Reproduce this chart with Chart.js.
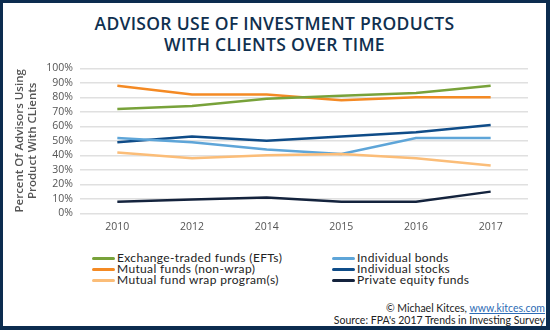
<!DOCTYPE html>
<html>
<head>
<meta charset="utf-8">
<script src="https://cdn.jsdelivr.net/npm/chart.js@4"></script>
<style>
  html, body { margin: 0; padding: 0; background: #fff; }
  #frame {
    position: relative; width: 550px; height: 330px; box-sizing: border-box;
    border-style: solid; border-color: #0c2c4f; border-width: 3px 4px 4px 3px;
    overflow: hidden; background: #fff;
  }
  #title {
    position: absolute; left: 0; top: 10px; width: 543px; text-align: center;
    font: 600 17.5px "Open Sans", sans-serif; color: #10304f; line-height: 21px;
    letter-spacing: 0.3px;
  }
  #plot { position: absolute; left: 0; top: 52px; width: 543px; height: 185px; }
  .legend { position: absolute; top: 249px; font: 12px Lato, sans-serif; color: #222; letter-spacing: 0.35px; }
  .legend div { height: 11px; line-height: 11px; white-space: nowrap; }
  .legend span.sw { display: inline-block; width: 23px; height: 3px; vertical-align: middle; margin-right: 2px; border-radius: 2px; }
  #footer {
    position: absolute; right: 1px; top: 299px; text-align: right;
    font: 10.5px Lato, sans-serif; color: #222; line-height: 12px;
  }
  #footer a { color: #2d6cb5; text-decoration: underline; }
</style>
</head>
<body>
<div id="frame">
  <div id="title">ADVISOR USE OF INVESTMENT PRODUCTS<br>WITH CLIENTS OVER TIME</div>
  <div id="plot"><canvas id="chart"></canvas></div>
  <div class="legend" id="legend-left" style="left:89px"></div>
  <div class="legend" id="legend-right" style="left:329px"></div>
  <div id="footer">© Michael Kitces, <a>www.kitces.com</a><br>Source: FPA's 2017 Trends in Investing Survey</div>
</div>
<script>
// --- Data ---
const years = ["2010", "2012", "2014", "2015", "2016", "2017"];

const etfs          = [72, 74, 79, 81, 83, 88];
const mutualFunds   = [88, 82, 82, 78, 80, 80];
const wrapPrograms  = [42, 38, 40, 41, 38, 33];
const bonds         = [52, 49, 44, 41, 52, 52];
const stocks        = [49, 53, 50, 53, 56, 61];
const privateEquity = [8, 9.5, 11, 8, 8, 15];

const yTicks = [0, 10, 20, 30, 40, 50, 60, 70, 80, 90, 100];

const seriesNames = [
  "Exchange-traded funds (EFTs)",
  "Mutual funds (non-wrap)",
  "Mutual fund wrap program(s)",
  "Individual bonds",
  "Individual stocks",
  "Private equity funds"
];
const seriesColors = ["#78a23a", "#f48a24", "#fbbd78", "#5ea5d8", "#0f4c88", "#14233d"];
const seriesData = [etfs, mutualFunds, wrapPrograms, bonds, stocks, privateEquity];

const tickFont = { family: "Open Sans", size: 10.5 };

const chart = new Chart(document.getElementById("chart"), {
  type: "line",
  data: {
    labels: years,
    datasets: seriesData.map((d, i) => ({
      label: seriesNames[i],
      data: d,
      borderColor: seriesColors[i],
      backgroundColor: seriesColors[i],
      borderWidth: 2.5,
      pointRadius: 0,
      tension: 0,
      fill: false
    }))
  },
  options: {
    responsive: true,
    maintainAspectRatio: false,
    animation: false,
    layout: { padding: { left: 10, right: 18, top: 4, bottom: 0 } },
    plugins: { legend: { display: false }, tooltip: { enabled: false } },
    scales: {
      x: {
        offset: true,
        grid: { display: false, drawTicks: false },
        border: { display: false },
        ticks: { color: "#555", font: tickFont, padding: 7 }
      },
      y: {
        min: 0,
        max: 100,
        afterBuildTicks: s => { s.ticks = yTicks.map(v => ({ value: v })); },
        afterFit: s => { s.width = 67; },
        grid: { color: "#e0e0e0", lineWidth: 1.5, drawTicks: false },
        border: { display: false },
        ticks: { color: "#555", font: tickFont, padding: 7, autoSkip: false, callback: v => v + "%" },
        title: {
          display: true,
          text: ["Percent Of Advisors Using", "Product With CLients"],
          color: "#555",
          font: { family: "Open Sans", size: 11.5, weight: "600", lineHeight: 1.15 },
          padding: 0
        }
      }
    }
  }
});

// --- Legend (two columns, built from the chart datasets) ---
function legendItem(ds) {
  return `<div><span class="sw" style="background:${ds.borderColor}"></span>${ds.label}</div>`;
}
const dsets = chart.data.datasets;
document.getElementById("legend-left").innerHTML  = dsets.slice(0, 3).map(legendItem).join("");
document.getElementById("legend-right").innerHTML = dsets.slice(3).map(legendItem).join("");
</script>
</body>
</html>
